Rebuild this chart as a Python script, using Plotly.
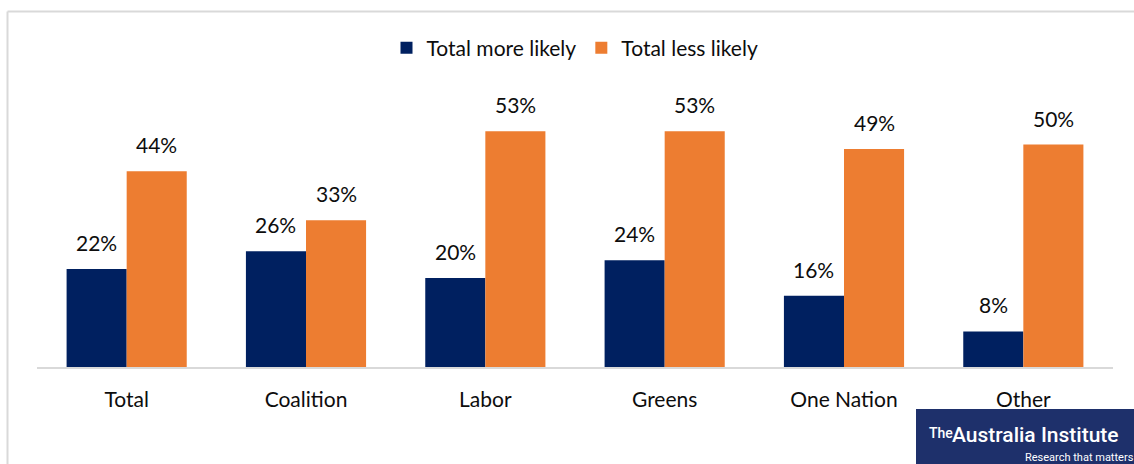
import plotly.graph_objects as go

# Survey results by voting intention
categories = ["Total", "Coalition", "Labor", "Greens", "One Nation", "Other"]
more_likely = [22, 26, 20, 24, 16, 8]
less_likely = [44, 33, 53, 53, 49, 50]
series_names = ["Total more likely", "Total less likely"]

NAVY = "#002060"
ORANGE = "#ED7D31"
FONT = "Lato, Open Sans, sans-serif"
TXT = "#0d0d0d"

W, H = 1134, 464
ML, MR, MT, MB = 37, 21, 100, 97
plot_w = W - ML - MR
plot_h = H - MT - MB
Y_MAX = 60

bw = 0.335
xs = list(range(len(categories)))

fig = go.Figure()
fig.add_bar(x=xs, y=more_likely, name=series_names[0], marker_color=NAVY,
            width=bw, offset=-bw, marker_line_width=0)
fig.add_bar(x=xs, y=less_likely, name=series_names[1], marker_color=ORANGE,
            width=bw, offset=0, marker_line_width=0)

# value labels above each bar
annotations = []
for i in xs:
    for val, dx in ((more_likely[i], -bw / 2), (less_likely[i], bw / 2)):
        annotations.append(dict(
            x=i + dx, y=val, xref="x", yref="y", text=f"{val}%",
            showarrow=False, yanchor="bottom", yshift=12,
            font=dict(size=21, color=TXT, family=FONT)))


def px_x(p):
    return (p - ML) / plot_w


def px_y(p):
    return (H - MB - p) / plot_h


# logo block
annotations += [
    dict(xref="paper", yref="paper", x=px_x(927), y=px_y(433), xanchor="left",
         yanchor="middle", text="The", showarrow=False,
         font=dict(size=14, color="white", family="Roboto, sans-serif", weight=500)),
    dict(xref="paper", yref="paper", x=px_x(950), y=px_y(435), xanchor="left",
         yanchor="middle", text="Australia Institute", showarrow=False,
         font=dict(size=21, color="white", family="Roboto, sans-serif", weight=500)),
    dict(xref="paper", yref="paper", x=px_x(1136), y=px_y(457), xanchor="right",
         yanchor="middle", text="Research that matters", showarrow=False,
         font=dict(size=11, color="white", family="Roboto, sans-serif")),
]

shapes = [
    # outer frame
    dict(type="line", xref="paper", yref="paper", x0=px_x(7.5), x1=px_x(7.5),
         y0=px_y(11.5), y1=px_y(470), line=dict(color="#d9d9d9", width=2)),
    dict(type="line", xref="paper", yref="paper", x0=px_x(7.5), x1=px_x(1140),
         y0=px_y(11.5), y1=px_y(11.5), line=dict(color="#d9d9d9", width=2)),
    # logo background
    dict(type="rect", xref="paper", yref="paper", x0=px_x(916), x1=px_x(1140),
         y0=px_y(409), y1=px_y(470), fillcolor="#1e306b", line_width=0, layer="below"),
]

fig.update_layout(
    width=W, height=H,
    margin=dict(l=ML, r=MR, t=MT, b=MB),
    paper_bgcolor="white", plot_bgcolor="white",
    font=dict(family=FONT, color=TXT, size=21),
    showlegend=True,
    legend=dict(orientation="h", x=0.5, xanchor="center", y=px_y(48), yanchor="middle",
                font=dict(size=21, color=TXT), itemsizing="constant",
                traceorder="normal", itemwidth=30, bgcolor="rgba(0,0,0,0)"),
    xaxis=dict(range=[-0.5, len(categories) - 0.5], tickvals=xs, ticktext=categories,
               showgrid=False, zeroline=False, showline=True, linecolor="#d9d9d9",
               linewidth=2, ticks="", ticklabelstandoff=13,
               tickfont=dict(size=21, color=TXT)),
    yaxis=dict(range=[0, Y_MAX], visible=False, showgrid=False),
    annotations=annotations,
    shapes=shapes,
    bargap=0.33,
)

fig.write_html("out.html")
